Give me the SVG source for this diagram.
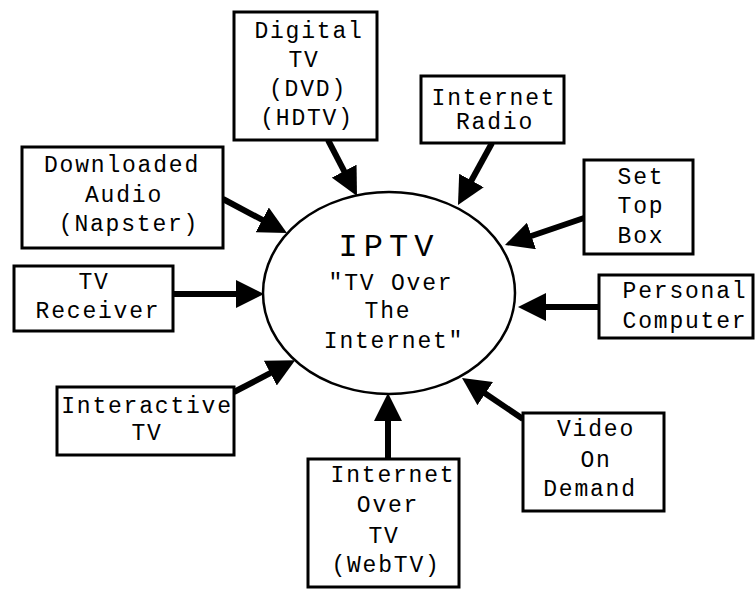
<svg xmlns="http://www.w3.org/2000/svg" width="755" height="589" viewBox="0 0 755 589">
<style>
.box{fill:#fff;stroke:#000;stroke-width:3}
.t{font-family:"Liberation Mono","Courier New",monospace;font-size:23px;letter-spacing:1.8px;text-anchor:middle;fill:#000}
.big{font-size:32px;letter-spacing:6px}
.con{stroke:#000;stroke-width:6;fill:none;marker-end:url(#ah)}
</style>
<defs>
<marker id="ah" viewBox="0 0 28 28" markerUnits="userSpaceOnUse" markerWidth="28" markerHeight="28" refX="8" refY="14" orient="auto">
<path d="M0,0 L28,14 L0,28 z" fill="#000"/>
</marker>
</defs>
<rect width="755" height="589" fill="#fff"/>
<g id="connectors">
<line class="con" x1="328" y1="140" x2="347.8" y2="178.2"/>
<line class="con" x1="492" y1="143" x2="467.6" y2="187.5"/>
<line class="con" x1="584" y1="218" x2="523.9" y2="238.5"/>
<line class="con" x1="599" y1="307" x2="538" y2="307"/>
<line class="con" x1="523" y1="419" x2="478.6" y2="389.1"/>
<line class="con" x1="388" y1="459" x2="388" y2="413"/>
<line class="con" x1="234" y1="392" x2="277.4" y2="369.4"/>
<line class="con" x1="173" y1="294" x2="244" y2="294"/>
<line class="con" x1="223" y1="199" x2="269.3" y2="223.6"/>
</g>
<g id="iptv">
<ellipse cx="389" cy="293" rx="126" ry="101" fill="#fff" stroke="#000" stroke-width="2.5"/>
<text class="t big" x="389" y="256">IPTV</text>
<text class="t" x="391" y="290">"TV Over</text>
<text class="t" x="388" y="318">The</text>
<text class="t" x="394" y="348">Internet"</text>
</g>
<g id="digital-tv">
<rect class="box" x="234" y="12" width="143" height="128"/>
<text class="t" x="309" y="38">Digital</text>
<text class="t" x="304" y="67">TV</text>
<text class="t" x="308" y="96">(DVD)</text>
<text class="t" x="307" y="125">(HDTV)</text>
</g>
<g id="internet-radio">
<rect class="box" x="421" y="76" width="143" height="67"/>
<text class="t" x="494" y="105">Internet</text>
<text class="t" x="495" y="129">Radio</text>
</g>
<g id="set-top-box">
<rect class="box" x="584" y="160" width="109" height="94"/>
<text class="t" x="641" y="184">Set</text>
<text class="t" x="641" y="213">Top</text>
<text class="t" x="641" y="243">Box</text>
</g>
<g id="personal-computer">
<rect class="box" x="599" y="275" width="154" height="63"/>
<text class="t" x="685" y="298">Personal</text>
<text class="t" x="685" y="328">Computer</text>
</g>
<g id="video-on-demand">
<rect class="box" x="523" y="413" width="141" height="98"/>
<text class="t" x="596" y="436">Video</text>
<text class="t" x="596" y="467">On</text>
<text class="t" x="590" y="496">Demand</text>
</g>
<g id="internet-over-tv">
<rect class="box" x="308" y="459" width="151" height="128"/>
<text class="t" x="393" y="482">Internet</text>
<text class="t" x="388" y="512">Over</text>
<text class="t" x="384" y="543">TV</text>
<text class="t" x="386" y="572">(WebTV)</text>
</g>
<g id="interactive-tv">
<rect class="box" x="57" y="387" width="177" height="68"/>
<text class="t" x="147" y="413">Interactive</text>
<text class="t" x="147" y="440">TV</text>
</g>
<g id="tv-receiver">
<rect class="box" x="14" y="266" width="159" height="65"/>
<text class="t" x="94" y="289">TV</text>
<text class="t" x="98" y="318">Receiver</text>
</g>
<g id="downloaded-audio">
<rect class="box" x="22" y="147" width="201" height="101"/>
<text class="t" x="122" y="172">Downloaded</text>
<text class="t" x="124" y="202">Audio</text>
<text class="t" x="129" y="231">(Napster)</text>
</g>
</svg>
